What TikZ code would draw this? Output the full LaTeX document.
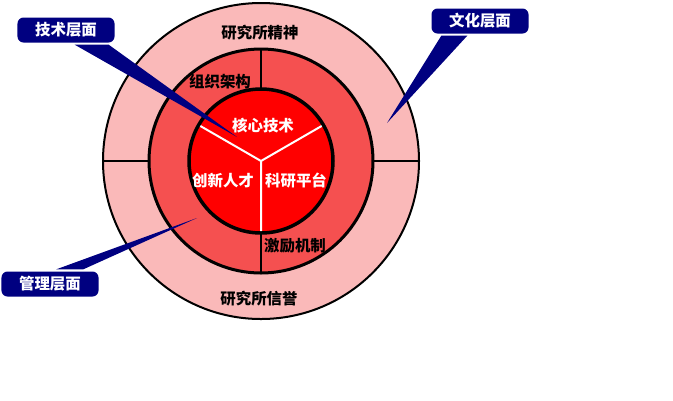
\documentclass[tikz,border=0pt]{standalone}
\usepackage{fontspec}
\setmainfont{Noto Sans CJK SC}
\usetikzlibrary{positioning}
\definecolor{calloutblue}{RGB}{0,0,128}
\definecolor{outerpink}{RGB}{250,185,185}
\definecolor{midred}{RGB}{245,80,80}
\begin{document}
\begin{tikzpicture}[x=1bp, y=-1bp,
    lbl/.style = {font=\fontsize{15.5}{17}\selectfont\bfseries, inner sep=0pt},
    core/.style = {lbl, text=white},
    callout/.style = {lbl, fill=calloutblue, text=white, rounded corners=6bp,
      minimum width=97bp, minimum height=25bp}]
    \useasboundingbox (0,0) rectangle (673,400);
    \coordinate (c) at (261,161);
    % rings
    \fill[outerpink] (c) circle[radius=158];
    \fill[midred] (c) circle[radius=112];
    \fill[red] (c) circle[radius=72];
    \draw[white, line width=2bp] (c) -- ++(-150:72) (c) -- ++(-30:72) (c) -- ++(90:72);
    \draw[line width=2bp] (c) ++(-90:72) -- ++(-90:40) (c) ++(90:72) -- ++(90:40);
    \draw[line width=1.5bp] (c) ++(0:112) -- ++(0:46) (c) ++(180:112) -- ++(180:46);
    \draw[line width=2bp] (c) circle[radius=158];
    \draw[line width=3bp] (c) circle[radius=112];
    \draw[line width=3.5bp] (c) circle[radius=72];
    % labels
    \node[lbl] (spirit) at (260,33) {研究所精神};
    \node[lbl] (org) at (220,82) {组织架构};
    \node[lbl] (incent) at (295,246) {激励机制};
    \node[lbl] (repute) at (259,299) {研究所信誉};
    \node[core] (tech) at (263,126) {核心技术};
    \node[core] (talent) at (223,181) {创新人才};
    \node[core] (platform) at (296,181) {科研平台};
    % callouts
    \node[callout] (techlayer) at (66,30) {技术层面};
    \node[callout] (culture) at (480,21) {文化层面};
    \node[callout] (manage) at (50,284) {管理层面};
    \coordinate (techtip) at (237,137);
    \coordinate (culturetip) at (387,123);
    \coordinate (managetip) at (197,218);
    \fill[calloutblue] ([xshift=-40bp, yshift=-2bp]techlayer.south east) -- (techtip) -- ([xshift=-6bp, yshift=-2bp]techlayer.south east) -- cycle;
    \fill[calloutblue] ([xshift=10bp, yshift=-2bp]culture.south west) -- (culturetip) -- ([xshift=36bp, yshift=-2bp]culture.south west) -- cycle;
    \fill[calloutblue] ([xshift=55bp, yshift=2bp]manage.north west) -- (managetip) -- ([xshift=82bp, yshift=2bp]manage.north west) -- cycle;
\end{tikzpicture}
\end{document}
